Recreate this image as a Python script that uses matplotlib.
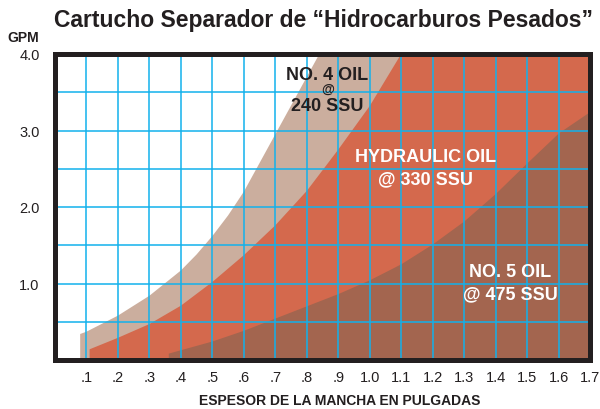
import numpy as np
import matplotlib
matplotlib.use("Agg")
import matplotlib.pyplot as plt

plt.rcParams["font.family"] = ["Liberation Sans", "DejaVu Sans"]

# espesor (pulgadas) vs GPM
no4_x = [0.08, 0.10, 0.20, 0.30, 0.40, 0.45, 0.50, 0.55, 0.60, 0.70, 0.80, 0.90, 1.70]
no4_y = [0.34, 0.37, 0.58, 0.84, 1.17, 1.38, 1.62, 1.89, 2.20, 2.95, 3.70, 4.45, 6.00]

hyd_x = [0.11, 0.20, 0.30, 0.40, 0.50, 0.60, 0.70, 0.80, 0.90, 1.00, 1.10, 1.20, 1.70]
hyd_y = [0.14, 0.29, 0.47, 0.71, 1.02, 1.37, 1.76, 2.21, 2.75, 3.32, 4.00, 4.70, 6.00]

no5_x = [0.36, 0.50, 0.60, 0.70, 0.80, 0.90, 1.00, 1.10, 1.20, 1.30, 1.40, 1.50, 1.60, 1.70]
no5_y = [0.09, 0.25, 0.39, 0.55, 0.71, 0.87, 1.05, 1.26, 1.52, 1.82, 2.18, 2.58, 2.97, 3.25]

x_ticks = [0.1, 0.2, 0.3, 0.4, 0.5, 0.6, 0.7, 0.8, 0.9, 1.0, 1.1, 1.2, 1.3, 1.4, 1.5, 1.6, 1.7]
x_labels = [".1", ".2", ".3", ".4", ".5", ".6", ".7", ".8", ".9",
            "1.0", "1.1", "1.2", "1.3", "1.4", "1.5", "1.6", "1.7"]
y_ticks = [1.0, 2.0, 3.0, 4.0]
y_labels = ["1.0", "2.0", "3.0", "4.0"]
y_minor = [0.5, 1.5, 2.5, 3.5]

fig = plt.figure(figsize=(6, 4.1), dpi=100)
ax = fig.add_axes([55 / 600, 49 / 410, 535 / 600, 306 / 410])

ax.fill_between(no4_x, no4_y, 0, color="#CBAE9E", lw=0, zorder=1)
ax.fill_between(hyd_x, hyd_y, 0, color="#D4694D", lw=0, zorder=1.1)
ax.fill_between(no5_x, no5_y, 0, color="#A3654F", lw=0, zorder=1.2)

ax.set_xlim(0, 1.7)
ax.set_ylim(0, 4.0)
ax.set_xticks(x_ticks)
ax.set_xticklabels(x_labels)
ax.set_yticks(y_ticks)
ax.set_yticklabels(y_labels)
ax.set_yticks(y_minor, minor=True)
ax.tick_params(which="both", length=0, labelsize=10.5, colors="#231F20")
ax.tick_params(axis="x", pad=7)
ax.tick_params(axis="y", pad=11)

ax.set_axisbelow(False)
ax.grid(which="both", color="#12B1EC", lw=1.1)

for s in ax.spines.values():
    s.set_linewidth(3.6)
    s.set_color("#231F20")
    s.set_zorder(5)

lbl = dict(ha="center", va="center", fontweight="bold", fontsize=13, zorder=4)
ax.text(0.865, 3.73, "NO. 4 OIL", color="#231F20", **lbl)
ax.text(0.865, 3.545, "@", color="#231F20", ha="center", va="center",
        fontweight="bold", fontsize=9.5, zorder=4)
ax.text(0.865, 3.33, "240 SSU", color="#231F20", **lbl)
ax.text(1.177, 2.66, "HYDRAULIC OIL", color="white", **lbl)
ax.text(1.177, 2.37, "@ 330 SSU", color="white", **lbl)
ax.text(1.446, 1.16, "NO. 5 OIL", color="white", **lbl)
ax.text(1.446, 0.87, "@ 475 SSU", color="white", **lbl)

fig.text(323 / 600, 1 - 20 / 410, "Cartucho Separador de \u201cHidrocarburos Pesados\u201d",
         ha="center", va="center", fontsize=16.5, fontweight="bold", color="#231F20")
fig.text(23 / 600, 1 - 38 / 410, "GPM", ha="center", va="center",
         fontsize=10, fontweight="bold", color="#231F20")
fig.text(340 / 600, 1 - 401 / 410, "ESPESOR DE LA MANCHA EN PULGADAS", ha="center",
         va="center", fontsize=10, fontweight="bold", color="#231F20")

fig.savefig("out.png", dpi=100)
